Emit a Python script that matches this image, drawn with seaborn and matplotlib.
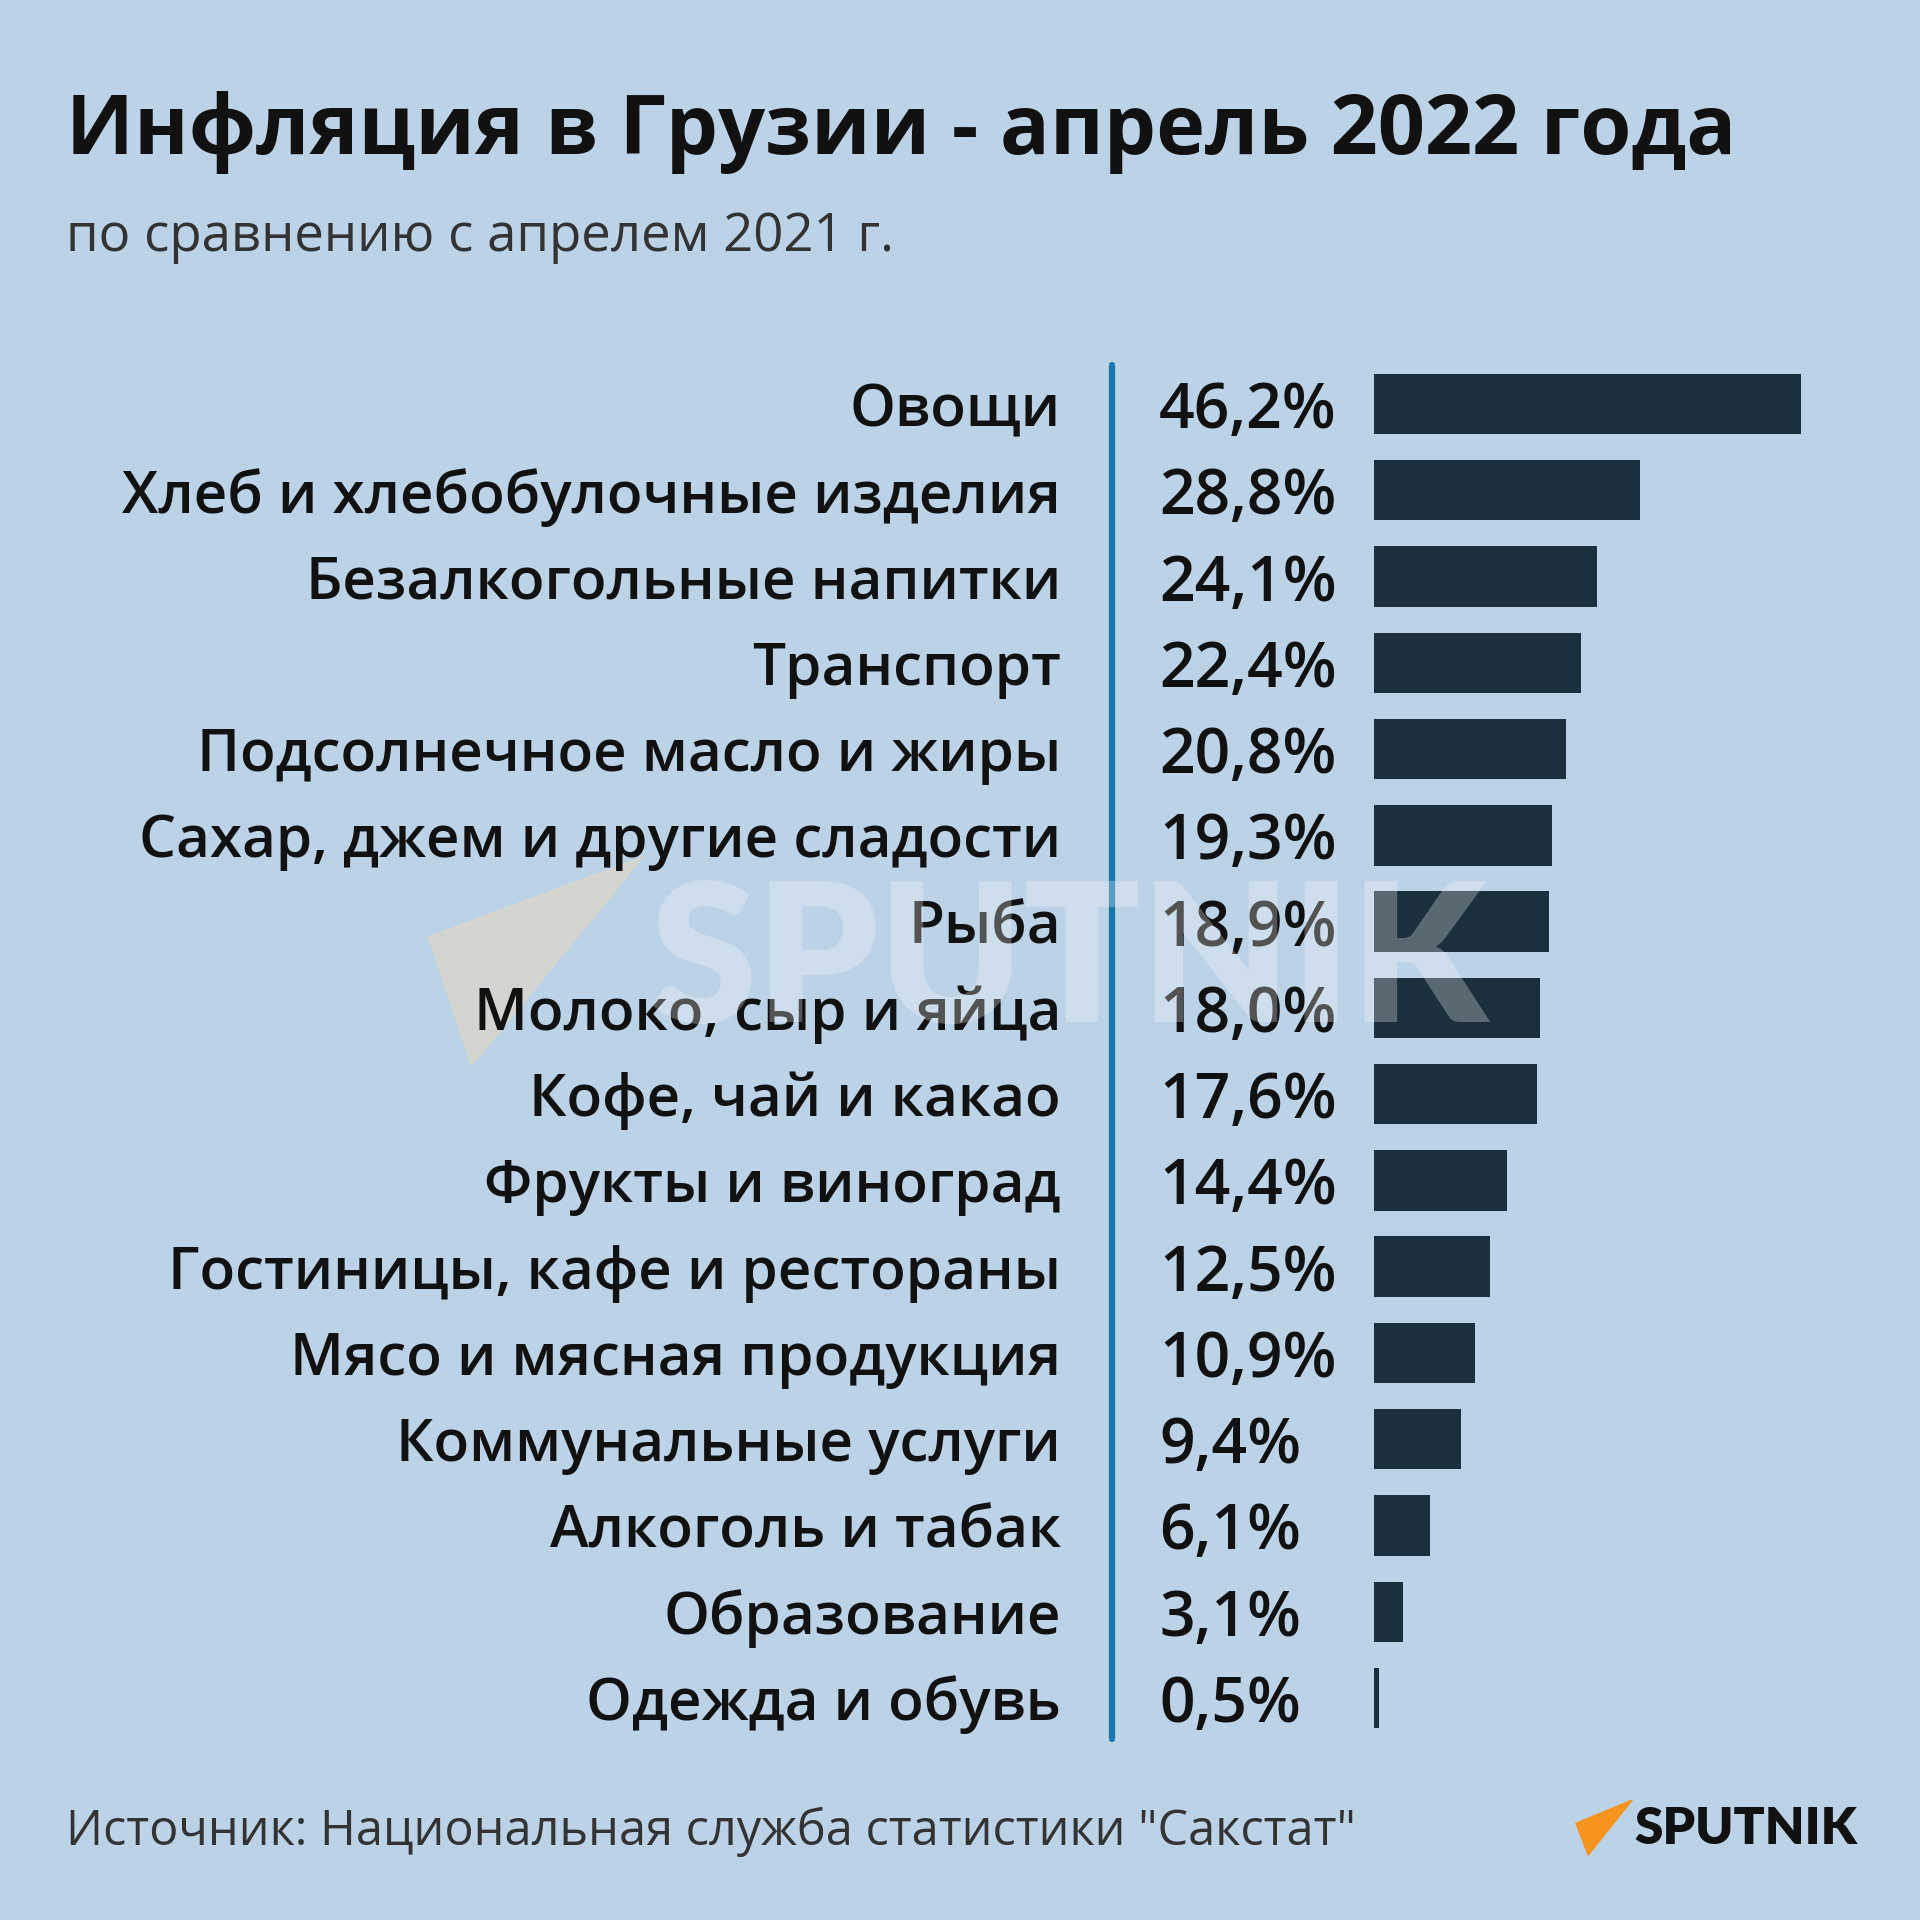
import matplotlib
matplotlib.use("Agg")
import matplotlib.pyplot as plt
import seaborn as sns
import pandas as pd
from matplotlib.patches import Polygon
from matplotlib.lines import Line2D

categories = [
    "Овощи", "Хлеб и хлебобулочные изделия", "Безалкогольные напитки", "Транспорт",
    "Подсолнечное масло и жиры", "Сахар, джем и другие сладости", "Рыба",
    "Молоко, сыр и яйца", "Кофе, чай и какао", "Фрукты и виноград",
    "Гостиницы, кафе и рестораны", "Мясо и мясная продукция", "Коммунальные услуги",
    "Алкоголь и табак", "Образование", "Одежда и обувь",
]
values = [46.2, 28.8, 24.1, 22.4, 20.8, 19.3, 18.9, 18.0, 17.6, 14.4, 12.5, 10.9, 9.4, 6.1, 3.1, 0.5]
value_labels = ["46,2%", "28,8%", "24,1%", "22,4%", "20,8%", "19,3%", "18,9%", "18,0%",
                "17,6%", "14,4%", "12,5%", "10,9%", "9,4%", "6,1%", "3,1%", "0,5%"]

title = "Инфляция в Грузии - апрель 2022 года"
subtitle = "по сравнению с апрелем 2021 г."
source = "Источник: Национальная служба статистики \"Сакстат\""

BG = "#bcd2e6"
BAR = "#1b2f3d"
LINE = "#1a77a9"

sns.set_theme(style="white")
plt.rcParams["font.family"] = ["Open Sans", "DejaVu Sans"]

W = H = 1920
fig = plt.figure(figsize=(19.2, 19.2), dpi=100, facecolor=BG)

def fx(px):
    return px / W

def fy(py):
    return 1 - py / H

# axes geometry (pixels, top-origin)
first_c, last_c = 404, 1698
step = (last_c - first_c) / 15
ax_top = first_c - step / 2
ax_bot = last_c + step / 2
bar_left = 1374
px_per_unit = (1801 - 1374) / 46.2
xmax = 50
ax_w = xmax * px_per_unit

ax = fig.add_axes([fx(bar_left), fy(ax_bot), fx(ax_w), (ax_bot - ax_top) / H])
ax.set_facecolor("none")

df = pd.DataFrame({"cat": categories, "val": values})
sns.barplot(data=df, x="val", y="cat", orient="h", color=BAR, saturation=1,
            width=0.70, ax=ax, order=categories, linewidth=0, edgecolor=BAR)
ax.set_xlim(0, xmax)
ax.set_ylim(len(categories) - 0.5, -0.5)
ax.axis("off")

trans_lab = matplotlib.transforms.blended_transform_factory(fig.transFigure, ax.transData)
for i, (c, v) in enumerate(zip(categories, value_labels)):
    ax.text(fx(1061), i, c, transform=trans_lab, ha="right", va="center_baseline",
            fontsize=42, fontweight="semibold", color="#111111")
    ax.text(fx(1159), i, v, transform=trans_lab, ha="left", va="center_baseline",
            fontsize=45, fontweight="semibold", color="#111111")

# vertical divider
fig.add_artist(Line2D([fx(1112), fx(1112)], [fy(365), fy(1739)], color=LINE, lw=4.5,
                      transform=fig.transFigure))

s = 1.2245
# title & subtitle
fig.text(fx(66), fy(126 * s), title, fontsize=59.5, fontweight="bold", color="#111111",
         ha="left", va="baseline")
fig.text(fx(66), fy(205 * s), subtitle, fontsize=38, color="#333333",
         ha="left", va="baseline")
fig.text(fx(66), fy(1507 * s), source, fontsize=35, color="#333333",
         ha="left", va="baseline")

# logo bottom right
fig.add_artist(Polygon([[fx(1287 * s), fy(1489 * s)], [fx(1333 * s), fy(1470 * s)],
                        [fx(1297 * s), fy(1515 * s)]], closed=True, color="#f7941d",
                       transform=fig.transFigure))
fig.text(fx(1335 * s), fy(1506 * s), "SPUTNIK", fontsize=37, fontweight="heavy",
         color="#111111", ha="left", va="baseline", family=["Lato", "DejaVu Sans"])

# watermark
fig.add_artist(Polygon([[fx(350 * s), fy(765 * s)], [fx(525 * s), fy(700 * s)],
                        [fx(385 * s), fy(870 * s)]], closed=True, color="#e8d9c0",
                       alpha=0.55, transform=fig.transFigure, zorder=0))
fig.text(fx(530 * s), fy(835 * s), "SPUTNIK", fontsize=139, fontweight="heavy",
         color="white", alpha=0.28, ha="left", va="baseline", zorder=5,
         family=["Lato", "DejaVu Sans"])

fig.savefig("out.png", dpi=100, facecolor=BG)
